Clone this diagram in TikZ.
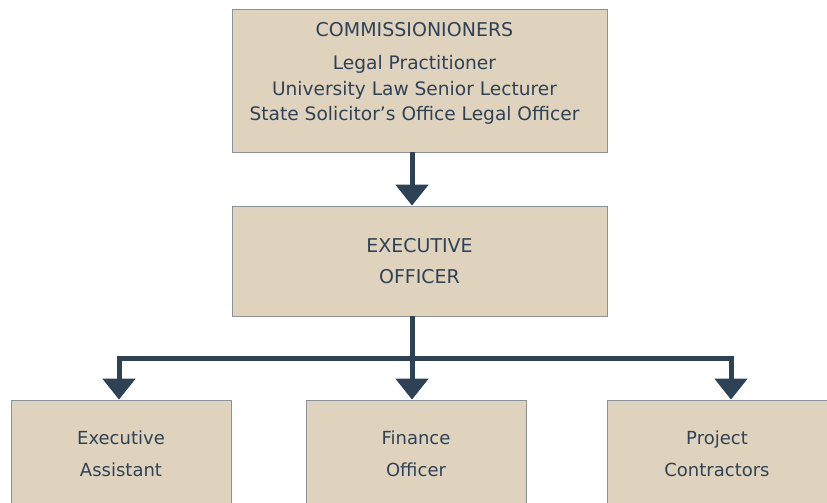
\documentclass[tikz,border=0pt]{standalone}
\usepackage{fontspec}
\setmainfont{DejaVu Sans}
\usetikzlibrary{arrows.meta}
\definecolor{boxfill}{HTML}{E0D3BD}
\definecolor{boxline}{HTML}{8A9299}
\definecolor{ink}{HTML}{2E4256}

\begin{document}
\begin{tikzpicture}[x=1pt,y=1pt,
  box/.style={draw=boxline,line width=0.8pt,fill=boxfill,inner sep=0,text=ink,align=center},
  link/.style={draw=ink,line width=5pt},
  tip/.style={-{Triangle[width=32pt,length=21pt]}}]
\useasboundingbox (0,0) rectangle (827,503);
\node[box,minimum width=375,minimum height=143] (comm) at (419.5,422.5) {};
\node[anchor=north,inner sep=0,align=center,text=ink,font=\fontsize{18.6}{25.5}\selectfont] (commtext) at (414.5,481) {{\fontsize{19}{19}\selectfont COMMISSIONIONERS}\\[8pt]Legal Practitioner\\University Law Senior Lecturer\\State Solicitor's Office Legal Officer};
\node[box,minimum width=375,minimum height=110,font=\fontsize{19}{31}\selectfont] (exec) at (419.5,242) {EXECUTIVE\\OFFICER};
\node[box,minimum width=220,minimum height=107,font=\fontsize{18}{32}\selectfont] (asst) at (121,49.5) {Executive\\Assistant};
\node[box,minimum width=220,minimum height=107,font=\fontsize{18}{32}\selectfont] (fin) at (416,49.5) {Finance\\Officer};
\node[box,minimum width=220,minimum height=107,font=\fontsize{18}{32}\selectfont] (proj) at (717,49.5) {Project\\Contractors};
\coordinate (split) at (412,144);
\draw[link,tip] ([xshift=-7.5pt]comm.south) -- ([xshift=-7.5pt]exec.north);
\draw[link] ([xshift=-7.5pt]exec.south) -- (split);
\draw[link,tip] (split) -| ([xshift=-2pt]asst.north);
\draw[link,tip] (split) -- ([xshift=-4pt]fin.north);
\draw[link,tip] (split) -| ([xshift=14pt]proj.north);
\end{tikzpicture}
\end{document}
